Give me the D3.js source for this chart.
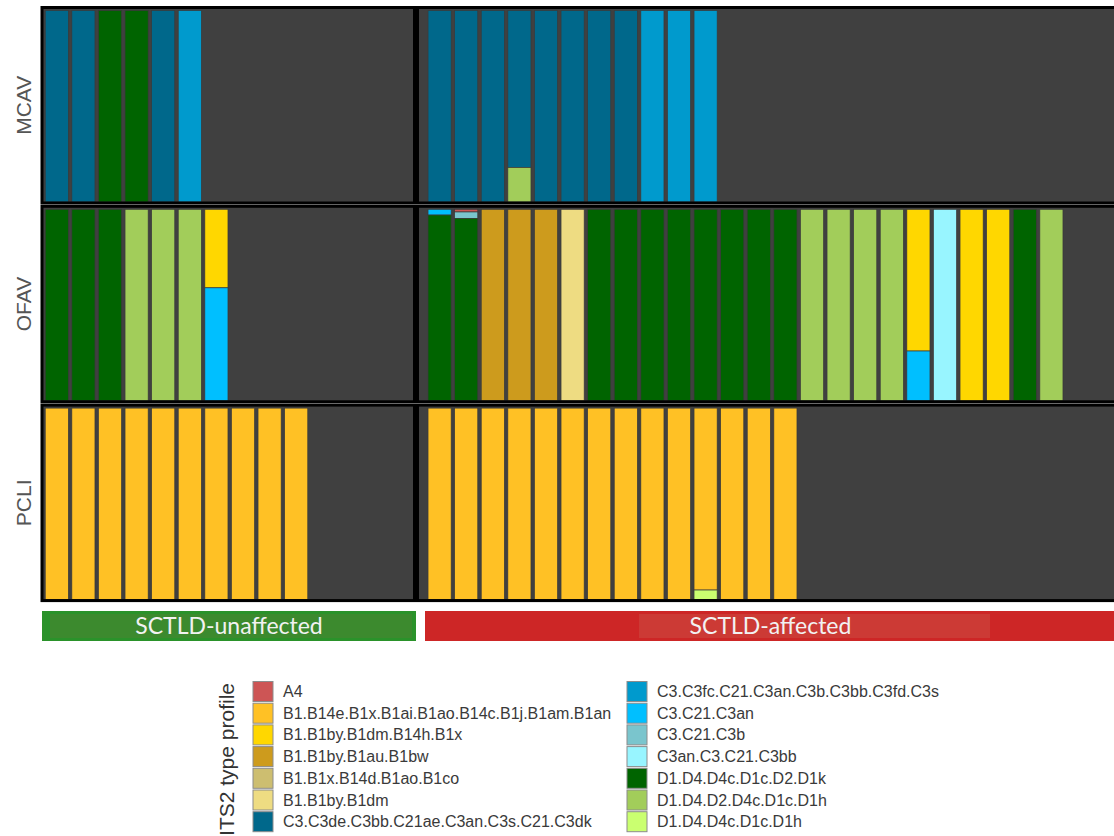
<!DOCTYPE html>
<html>
<head>
<meta charset="utf-8">
<script src="https://cdn.jsdelivr.net/npm/d3@7"></script>
<style>
  body { margin: 0; background: #fff; }
  svg { display: block; }
</style>
</head>
<body>
<div id="chart"></div>
<script>
// ITS2 type profiles in legend order (first profile is stacked on top).
const profiles = [
  'A4',
  'B1.B14e.B1x.B1ai.B1ao.B14c.B1j.B1am.B1an',
  'B1.B1by.B1dm.B14h.B1x',
  'B1.B1by.B1au.B1bw',
  'B1.B1x.B14d.B1ao.B1co',
  'B1.B1by.B1dm',
  'C3.C3de.C3bb.C21ae.C3an.C3s.C21.C3dk',
  'C3.C3fc.C21.C3an.C3b.C3bb.C3fd.C3s',
  'C3.C21.C3an',
  'C3.C21.C3b',
  'C3an.C3.C21.C3bb',
  'D1.D4.D4c.D1c.D2.D1k',
  'D1.D4.D2.D4c.D1c.D1h',
  'D1.D4.D4c.D1c.D1h'
];
// Short codes used in the sample arrays below, same order as profiles.
const profileCodes = ['A4', 'B1an', 'B1x', 'B1bw', 'B1co', 'B1dm', 'C3dk', 'C3s',
  'C3an', 'C3b', 'C3bb', 'D1k', 'D2h', 'D1h'];
const profileColors = ['#cd5555', '#ffc125', '#ffd700', '#cd9b1d', '#cdbe70', '#eedc82',
  '#00688b', '#009acd', '#00bfff', '#7ac5cd', '#98f5ff', '#006400', '#a2cd5a', '#caff70'];

const species = ['MCAV', 'OFAV', 'PCLI'];
const conditions = ['SCTLD-unaffected', 'SCTLD-affected'];
// Number of sample slots on each column's x axis.
const slotCounts = [14, 26];

// Relative abundance of each profile per colony.
const mcavUnaffected = [
  { C3dk: 1 }, { C3dk: 1 }, { D1k: 1 }, { D1k: 1 }, { C3dk: 1 }, { C3s: 1 }
];
const mcavAffected = [
  { C3dk: 1 }, { C3dk: 1 }, { C3dk: 1 }, { C3dk: 0.82, D2h: 0.18 }, { C3dk: 1 },
  { C3dk: 1 }, { C3dk: 1 }, { C3dk: 1 }, { C3s: 1 }, { C3s: 1 }, { C3s: 1 }
];
const ofavUnaffected = [
  { D1k: 1 }, { D1k: 1 }, { D1k: 1 }, { D2h: 1 }, { D2h: 1 }, { D2h: 1 },
  { B1x: 0.41, C3an: 0.59 }
];
const ofavAffected = [
  { C3an: 0.03, D1k: 0.97 }, { A4: 0.014, C3b: 0.034, D1k: 0.952 },
  { B1bw: 1 }, { B1bw: 1 }, { B1bw: 1 }, { B1dm: 1 },
  { D1k: 1 }, { D1k: 1 }, { D1k: 1 }, { D1k: 1 }, { D1k: 1 }, { D1k: 1 }, { D1k: 1 }, { D1k: 1 },
  { D2h: 1 }, { D2h: 1 }, { D2h: 1 }, { D2h: 1 },
  { B1x: 0.74, C3an: 0.26 }, { C3bb: 1 }, { B1x: 1 }, { B1x: 1 }, { D1k: 1 }, { D2h: 1 }
];
const pcliUnaffected = [
  { B1an: 1 }, { B1an: 1 }, { B1an: 1 }, { B1an: 1 }, { B1an: 1 },
  { B1an: 1 }, { B1an: 1 }, { B1an: 1 }, { B1an: 1 }, { B1an: 1 }
];
const pcliAffected = [
  { B1an: 1 }, { B1an: 1 }, { B1an: 1 }, { B1an: 1 }, { B1an: 1 }, { B1an: 1 }, { B1an: 1 },
  { B1an: 1 }, { B1an: 1 }, { B1an: 1 }, { B1an: 0.95, D1h: 0.05 }, { B1an: 1 }, { B1an: 1 }, { B1an: 1 }
];

const panelSamples = {
  MCAV: [mcavUnaffected, mcavAffected],
  OFAV: [ofavUnaffected, ofavAffected],
  PCLI: [pcliUnaffected, pcliAffected]
};

// ---- layout ----
const width = 1114;
const height = 836;
const step = 26.6;
const colEdges = [[42, 414.5], [417.5, 1116]];
const colScaleStart = [43.5, 426.3];
const rowTop = 7.5, rowH = 195.5, rowGap = 3.3;
const stripY = 611, stripH = 30;

const color = d3.scaleOrdinal().domain(profileCodes).range(profileColors);

const svg = d3.select('#chart').append('svg')
  .attr('width', width)
  .attr('height', height);

// One band scale per column (free x scales, equal spacing).
const xScales = conditions.map((c, j) => d3.scaleBand()
  .domain(d3.range(1, slotCounts[j] + 1))
  .range([colScaleStart[j], colScaleStart[j] + slotCounts[j] * step])
  .paddingInner(0.13)
  .paddingOuter(0.065));

species.forEach((sp, r) => {
  const top = rowTop + r * (rowH + rowGap);
  const bottom = top + rowH;
  const y = d3.scaleLinear().domain([0, 1]).range([bottom - 1, top + 3]);

  conditions.forEach((cond, j) => {
    const [x0, x1] = colEdges[j];
    const x = xScales[j];
    const g = svg.append('g');

    g.append('rect')
      .attr('x', x0).attr('y', top)
      .attr('width', x1 - x0).attr('height', rowH)
      .attr('fill', '#404040');

    // Stack each sample from the top in legend order.
    const segs = [];
    panelSamples[sp][j].forEach((sample, i) => {
      let cum = 0;
      profileCodes.forEach(code => {
        const share = sample[code] || 0;
        if (share > 0) {
          segs.push({ slot: i + 1, code, from: cum, to: cum + share });
          cum += share;
        }
      });
    });

    g.selectAll('rect.seg')
      .data(segs)
      .enter()
      .append('rect')
      .attr('class', 'seg')
      .attr('x', d => x(d.slot))
      .attr('width', x.bandwidth())
      .attr('y', d => y(1 - d.from))
      .attr('height', d => y(1 - d.to) - y(1 - d.from))
      .attr('fill', d => color(d.code))
      .attr('stroke', '#3a3a3a')
      .attr('stroke-width', 0.7);

    g.append('rect')
      .attr('x', x0).attr('y', top)
      .attr('width', x1 - x0).attr('height', rowH)
      .attr('fill', 'none')
      .attr('stroke', '#000')
      .attr('stroke-width', 3);
  });

  // Row facet label on the left.
  svg.append('text')
    .attr('transform', `translate(31,${(top + bottom) / 2}) rotate(-90)`)
    .attr('text-anchor', 'middle')
    .attr('font-family', 'Liberation Sans, Arial, sans-serif')
    .attr('font-size', 21)
    .attr('fill', '#555')
    .text(sp);
});

// Condition strips below the panels.
const stripSpec = [
  { x0: 42, x1: 416, fill: '#2a922a', inner: '#3c8a2e', ix0: 50, ix1: 412 },
  { x0: 425, x1: 1116, fill: '#cd2626', inner: '#cc3a35', ix0: 639, ix1: 990 }
];
conditions.forEach((cond, j) => {
  const s = stripSpec[j];
  svg.append('rect')
    .attr('x', s.x0).attr('y', stripY)
    .attr('width', s.x1 - s.x0).attr('height', stripH)
    .attr('fill', s.fill);
  svg.append('rect')
    .attr('x', s.ix0).attr('y', stripY + 3)
    .attr('width', s.ix1 - s.ix0).attr('height', stripH - 6)
    .attr('fill', s.inner);
  svg.append('text')
    .attr('x', (s.x0 + s.x1) / 2)
    .attr('y', stripY + 22.5)
    .attr('text-anchor', 'middle')
    .attr('font-family', 'Lato, Open Sans, sans-serif')
    .attr('font-size', 23)
    .attr('fill', '#f2f2f2')
    .text(cond);
});

// Legend: two columns of seven keys.
const legendRows = 7;
const keyY0 = 681.5, keyStep = 21.7, keySize = 20;
const keyX = [253, 627];
const legend = svg.append('g')
  .attr('font-family', 'Liberation Sans, Arial, sans-serif')
  .attr('font-size', 16)
  .attr('fill', '#3a3a3a');

legend.append('text')
  .attr('transform', 'translate(234,683) rotate(-90)')
  .attr('text-anchor', 'end')
  .attr('font-size', 21)
  .attr('fill', '#333')
  .text('ITS2 type profile');

const items = legend.selectAll('g.item')
  .data(profiles)
  .enter()
  .append('g')
  .attr('class', 'item')
  .attr('transform', (d, i) => {
    const col = Math.floor(i / legendRows);
    const row = i % legendRows;
    return `translate(${keyX[col]},${keyY0 + row * keyStep})`;
  });

items.append('rect')
  .attr('width', keySize)
  .attr('height', keySize)
  .attr('fill', (d, i) => profileColors[i])
  .attr('stroke', '#8c8c8c')
  .attr('stroke-width', 1);

items.append('text')
  .attr('x', 30)
  .attr('y', keySize / 2 + 5.5)
  .text(d => d);
</script>
</body>
</html>
